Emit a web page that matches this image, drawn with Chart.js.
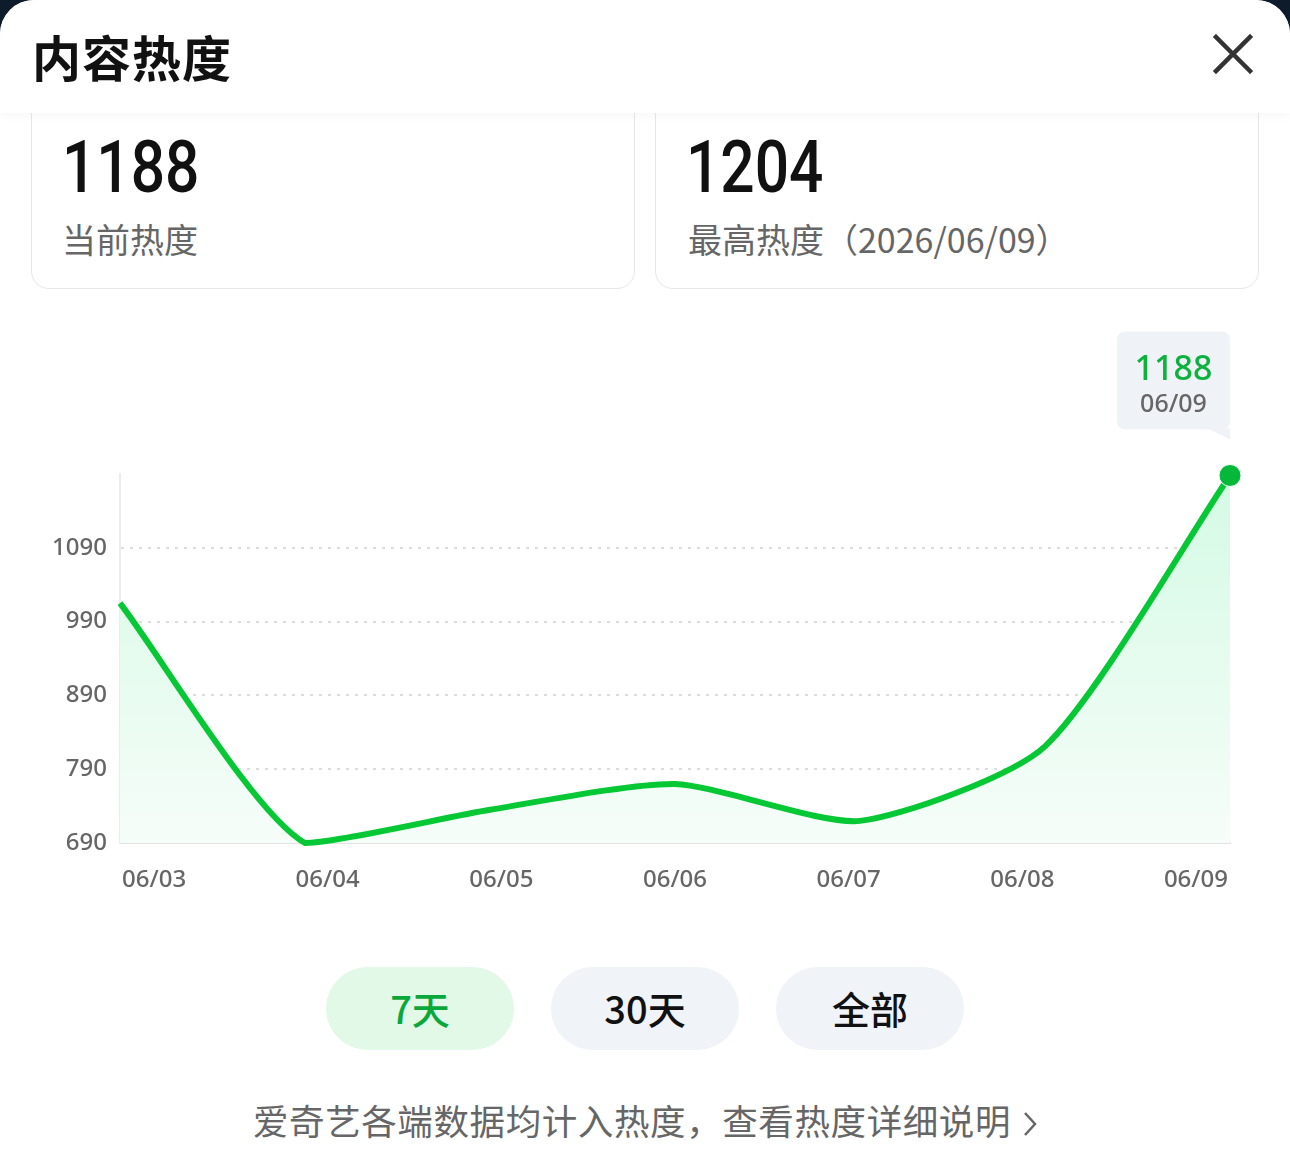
<!DOCTYPE html>
<html>
<head>
<meta charset="utf-8">
<script src="https://cdn.jsdelivr.net/npm/chart.js@4/dist/chart.umd.min.js"></script>
<style>
  html, body { margin: 0; padding: 0; background: #0d1b2a; }
  body { width: 1290px; height: 1157px; overflow: hidden; font-family: "Noto Sans CJK SC", "Noto Sans", sans-serif; }
  .sheet { position: absolute; left: 0; top: 0; width: 1290px; height: 1157px; background: #fff; border-radius: 34px 34px 0 0; overflow: hidden; }
  .header { position: absolute; left: 0; top: 0; width: 1290px; height: 113px; background: #fff; z-index: 5; box-shadow: 0 3px 8px rgba(0,0,0,0.035); }
  .title { position: absolute; left: 32px; top: 20px; font-size: 49px; font-weight: 700; color: #111; letter-spacing: 1px; }
  .close { position: absolute; left: 1209px; top: 30px; width: 48px; height: 48px; }
  .card { position: absolute; top: 70px; height: 217px; width: 602px; border: 1.5px solid #e6e6e6; border-radius: 18px; background: #fff; }
  .num { position: absolute; top: 61px; font-family: Roboto, sans-serif; font-size: 72px; font-weight: 500; color: #111; transform: scaleX(0.84); transform-origin: left; line-height: 1; }
  .lab { position: absolute; top: 148px; font-size: 34px; font-weight: 400; color: #666; line-height: 1.2; }
  #chart { position: absolute; left: 0; top: 300px; }
  .btn { position: absolute; top: 967px; width: 188px; height: 83px; border-radius: 42px; background: #f0f3f8; color: #111; font-size: 38px; font-weight: 500; text-align: center; line-height: 81px; }
  .btn.on { background: #e2f9e7; color: #0aa83a; }
  .foot { position: absolute; left: 0; width: 1290px; top: 1094px; text-align: center; font-size: 35.5px; letter-spacing: 0.6px; color: #666; }
  .foot svg { vertical-align: -2px; margin-left: 12px; }
</style>
</head>
<body>
<div class="sheet">
  <div class="header">
    <div class="title">内容热度</div>
    <svg class="close" viewBox="0 0 48 48"><path d="M7 7 L41 41 M41 7 L7 41" stroke="#333" stroke-width="4.5" stroke-linecap="square"/></svg>
  </div>
  <div class="card" style="left:31px"><div class="num" style="left:30px">1188</div><div class="lab" style="left:30px">当前热度</div></div>
  <div class="card" style="left:655px"><div class="num" style="left:30px">1204</div><div class="lab" style="left:32px">最高热度（2026/06/09）</div></div>
  <canvas id="chart" width="1290" height="620"></canvas>
  <div class="btn on" style="left:326px">7天</div>
  <div class="btn" style="left:551px">30天</div>
  <div class="btn" style="left:776px">全部</div>
  <div class="foot">爱奇艺各端数据均计入热度，查看热度详细说明<svg width="14" height="26" viewBox="0 0 14 26"><path d="M2 2 L12 13 L2 24" fill="none" stroke="#666" stroke-width="2.5"/></svg></div>
</div>
<script>
const days = ['06/03', '06/04', '06/05', '06/06', '06/07', '06/08', '06/09'];
const heat = [1015, 690, 735, 770, 720, 821, 1188];
const yTicks = [690, 790, 890, 990, 1090];

const green = '#05c834';

const tipPlugin = {
    id: 'tip',
    afterDatasetsDraw(chart) {
        const meta = chart.getDatasetMeta(0);
        const last = meta.data[meta.data.length - 1];
        const ctx = chart.ctx;
        const w = 113, h = 98;
        const right = last.x, bottom = last.y - 46;
        const left = right - w, top = bottom - h;
        ctx.save();
        ctx.fillStyle = '#eff3f8';
        ctx.beginPath();
        ctx.roundRect(left, top, w, h, 8);
        ctx.fill();
        ctx.beginPath();
        ctx.moveTo(right - 22, bottom - 1);
        ctx.lineTo(right, bottom - 1);
        ctx.lineTo(right, bottom + 10);
        ctx.closePath();
        ctx.fill();
        ctx.textAlign = 'center';
        ctx.textBaseline = 'alphabetic';
        ctx.fillStyle = '#0bb23c';
        ctx.font = '500 34px "Noto Sans"';
        ctx.fillText(heat[heat.length - 1], left + w / 2, top + 49);
        ctx.fillStyle = '#666';
        ctx.font = '500 25px "Noto Sans"';
        ctx.fillText(days[days.length - 1], left + w / 2, top + 81);
        ctx.restore();
    }
};

function setup() {
    const el = document.getElementById('chart');
    const config = {
        type: 'line',
        data: {
            labels: days,
            datasets: [{
                data: heat,
                borderColor: green,
                borderWidth: 6,
                tension: 0.22,
                clip: false,
                fill: 'start',
                backgroundColor: (c) => {
                    const area = c.chart.chartArea;
                    if (!area) return 'rgba(0,0,0,0)';
                    const g = c.chart.ctx.createLinearGradient(0, area.top, 0, area.bottom);
                    g.addColorStop(0, '#d4fae4');
                    g.addColorStop(1, '#f6fdf9');
                    return g;
                },
                pointRadius: heat.map((v, i) => i == heat.length - 1 ? 11 : 0),
                pointBackgroundColor: '#06b83a',
                pointBorderColor: '#ffffff',
                pointBorderWidth: 1
            }]
        },
        options: {
            responsive: false,
            animation: false,
            devicePixelRatio: 1,
            layout: { padding: { top: 174, right: 60, left: 0, bottom: 0 } },
            plugins: { legend: { display: false }, tooltip: { enabled: false } },
            scales: {
                x: { type: 'category', display: false, offset: false },
                x2: {
                    type: 'linear',
                    position: 'bottom',
                    min: -0.196,
                    max: 6.196,
                    afterBuildTicks: (s) => { s.ticks = days.map((d, i) => ({ value: i })); },
                    afterFit: (s) => { s.height = 77; },
                    grid: { display: false, drawTicks: false },
                    border: { display: true, color: '#e2e2e2', width: 2 },
                    ticks: {
                        callback: (v) => days[v],
                        color: '#666',
                        font: { family: 'Noto Sans', size: 24, weight: 500 },
                        padding: 23,
                        maxRotation: 0,
                        autoSkip: false
                    }
                },
                y: {
                    min: 690,
                    max: 1190,
                    afterBuildTicks: (s) => { s.ticks = yTicks.concat([1190]).map(v => ({ value: v })); },
                    afterFit: (s) => { s.width = 120; },
                    grid: {
                        drawTicks: false,
                        color: (c) => (c.tick && c.tick.value > 690 && c.tick.value < 1190) ? '#dcdcdc' : 'rgba(0,0,0,0)',
                        lineWidth: 2
                    },
                    border: { display: true, color: '#ececec', width: 2, dash: [3, 6] },
                    ticks: {
                        callback: (v) => yTicks.includes(v) ? v : '',
                        color: '#666',
                        font: { family: 'Noto Sans', size: 24, weight: 500 },
                        padding: 13
                    }
                }
            }
        },
        plugins: [tipPlugin]
    };
    new Chart(el, config);
}
window.onload = setup
</script>
</body>
</html>
